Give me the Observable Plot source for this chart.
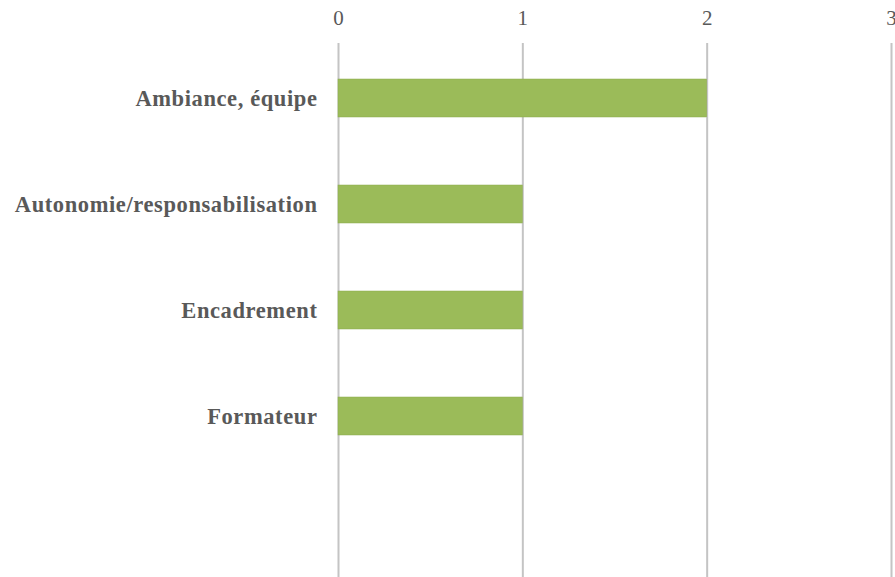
<!DOCTYPE html>
<html>
<head>
<meta charset="utf-8">
<script src="https://cdn.jsdelivr.net/npm/d3@7"></script>
<script src="https://cdn.jsdelivr.net/npm/@observablehq/plot@0.6"></script>
<style>
  html, body { margin: 0; padding: 0; background: #fff; overflow: hidden; }
</style>
</head>
<body>
<div id="chart"></div>
<script>
const categories = ["Ambiance, équipe", "Autonomie/responsabilisation", "Encadrement", "Formateur"];
const values = [2, 1, 1, 1];
const xTicks = [0, 1, 2, 3];

const data = categories.map((c, i) => ({category: c, value: values[i]}));

const chart = Plot.plot({
  width: 895,
  height: 577,
  marginLeft: 338,
  marginRight: 4,
  marginTop: 43,
  marginBottom: 0,
  style: {background: "#fff", overflow: "visible"},
  x: {domain: [0, 3], axis: null},
  y: {domain: categories, range: [43, 470.2], paddingInner: 0.644, paddingOuter: 0.322, axis: null},
  marks: [
    Plot.ruleX(xTicks, {stroke: "#c4c4c4", strokeWidth: 2}),
    Plot.barX(data, {x: "value", y: "category", fill: "#9bbb59", stroke: "#8aaa4c", strokeWidth: 0.5}),
    Plot.axisX(xTicks, {anchor: "top", label: null, tickSize: 0, tickPadding: 19, tickFormat: d => String(d),
      fontSize: 21, fontFamily: "Liberation Serif, Times New Roman, serif", fill: "#595959"}),
    Plot.axisY(categories, {anchor: "left", label: null, tickSize: 0, tickPadding: 21,
      fontSize: 22.5, fontWeight: "bold", fontFamily: "Liberation Serif, Times New Roman, serif",
      fill: "#595959", letterSpacing: 0.6})
  ]
});
chart.querySelectorAll("g[aria-label='y-axis tick label'] text").forEach(t => t.style.letterSpacing = "0.6px");
document.getElementById("chart").appendChild(chart);
</script>
</body>
</html>
